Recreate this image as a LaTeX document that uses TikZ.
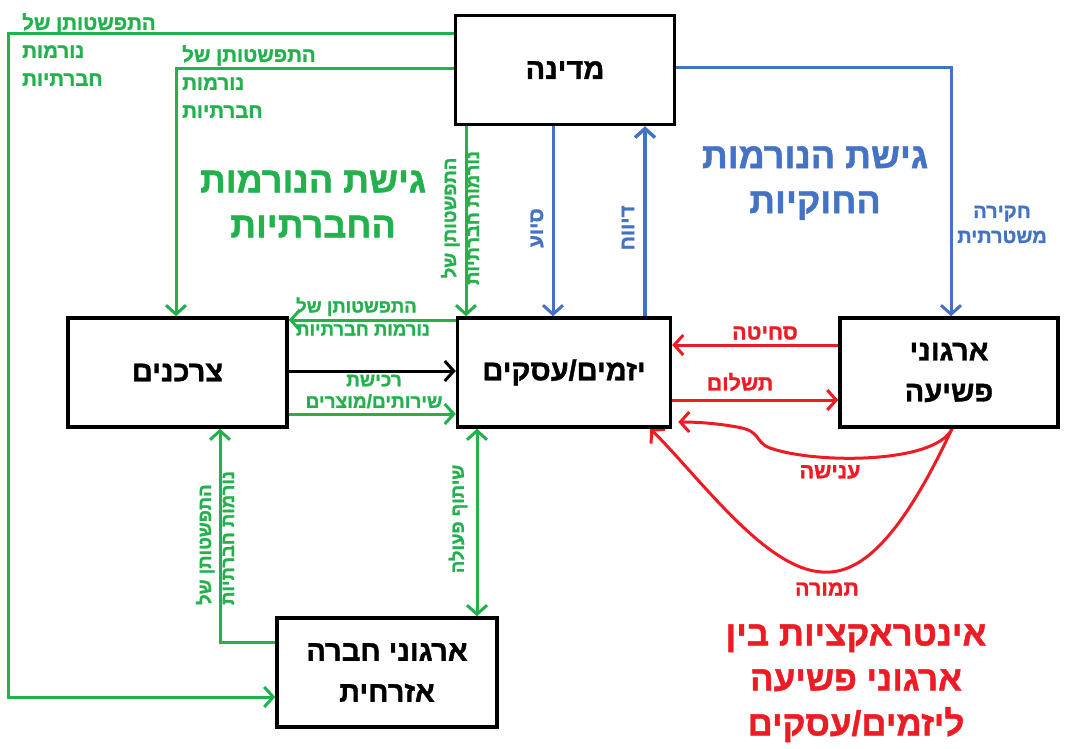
\documentclass[tikz,border=0pt]{standalone}
\usepackage{fontspec}
\setmainfont{Liberation Sans}[Script=Hebrew,BoldFeatures={FakeBold=1.2}]
\TeXXeTstate=1
\usetikzlibrary{arrows.meta}
\definecolor{cg}{RGB}{34,177,76}
\definecolor{cb}{RGB}{68,114,196}
\definecolor{cr}{RGB}{237,28,36}
\newcommand\hb[1]{\beginR#1\endR}
\newcommand\fsz[2]{\fontsize{#1}{#2}\selectfont}
\pgfdeclarelayer{fg}
\pgfsetlayers{main,fg}
\begin{document}
\begin{tikzpicture}[x=1pt,y=-1pt,
  box/.style={draw=black,line width=3.5pt,inner sep=0pt,align=center,font=\bfseries\fsz{29}{41}},
  tipb/.style={-{Straight Barb[length=9pt,width=20pt]}},
  tipbb/.style={{Straight Barb[length=9pt,width=20pt]}-{Straight Barb[length=9pt,width=20pt]}},
  link/.style={line width=3pt,tipb},
  gl/.style={link,draw=cg},
  bl/.style={link,draw=cb},
  rl/.style={link,draw=cr},
  lab/.style={inner sep=0pt,font=\bfseries\fsz{20.5}{28}},
  slab/.style={inner sep=0pt,font=\bfseries\fsz{18.5}{23}},
  rlab/.style={lab,text=cr,font=\bfseries\fsz{21.5}{28}},
  title/.style={inner sep=0pt,align=center,font=\bfseries\fsz{36}{45}}
]
\fill[white] (0,0) rectangle (1066,749);
\useasboundingbox (0,0) rectangle (1066,749);

\begin{pgfonlayer}{fg}
% boxes
\node[box,minimum width=219pt,minimum height=109pt] (mdina) at (565,70) {\hb{מדינה}};
\node[box,minimum width=219pt,minimum height=109pt] (tzar) at (177.5,372.5) {\hb{צרכנים}};
\node[box,minimum width=213pt,minimum height=109pt] (yaz) at (564,372.5) {\hb{יזמים/עסקים}};
\node[box,minimum width=218pt,minimum height=109pt] (pesh) at (949,372.5) {\hb{ארגוני}\\\hb{פשיעה}};
\node[box,minimum width=220pt,minimum height=109pt] (ezr) at (387,672.5) {\hb{ארגוני חברה}\\\hb{אזרחית}};

% green labels
\node[lab,text=cg,align=left,anchor=west] (lg1) at (22,49.5) {\hb{התפשטותן של}\\\hb{נורמות}\\\hb{חברתיות}};
\node[lab,text=cg,align=left,anchor=west] (lg2) at (182,81.5) {\hb{התפשטותן של}\\\hb{נורמות}\\\hb{חברתיות}};
\node[slab,text=cg,align=center,rotate=90] (lg3) at (460,218) {\hb{התפשטותן של}\\\hb{נורמות חברתיות}};
\node[slab,text=cg,align=left,anchor=west] (lg4) at (296,316.5) {\hb{התפשטותן של}\\\hb{נורמות חברתיות}};
\node[slab,text=cg,align=center,font=\bfseries\fsz{19}{21.5}] (lg5) at (374,391.5) {\hb{רכישת}\\\hb{שירותים/מוצרים}};
\node[slab,text=cg,rotate=90] (lg6) at (458,519) {\hb{שיתוף פעולה}};
\node[slab,text=cg,align=left,rotate=90] (lg7) at (215,538) {\hb{התפשטותן של}\\\hb{נורמות חברתיות}};

% blue labels
\node[lab,text=cb,rotate=90] (lb1) at (537,228) {\hb{סיוע}};
\node[lab,text=cb,rotate=90] (lb2) at (628,228) {\hb{דיווח}};
\node[slab,text=cb,align=center,font=\bfseries\fsz{20}{25}] (lb3) at (1002,224.5) {\hb{חקירה}\\\hb{משטרתית}};

% red labels
\node[rlab] (lr1) at (765,333) {\hb{סחיטה}};
\node[rlab] (lr2) at (740,382) {\hb{תשלום}};
\node[rlab] (lr3) at (830,472) {\hb{ענישה}};
\node[rlab] (lr4) at (827,589) {\hb{תמורה}};

% titles
\node[title,text=cg] (tg) at (313,204) {\hb{גישת הנורמות}\\\hb{החברתיות}};
\node[title,text=cb] (tb) at (815,183) {\hb{גישת הנורמות}\\\hb{החוקיות}};
\node[title,text=cr,font=\bfseries\fsz{35}{45}] (tr) at (856,683) {\hb{אינטראקציות בין}\\\hb{ארגוני פשיעה}\\\hb{ליזמים/עסקים}};
\end{pgfonlayer}

\coordinate (gc1) at (8,400);

% red connectors
\draw[rl] ([yshift=27.5pt]pesh.west) -- ([yshift=27.5pt]yaz.east);
\draw[rl] ([yshift=-27.5pt]yaz.east) -- ([yshift=-27.5pt]pesh.west);
\draw[rl] ([xshift=3pt]pesh.south) .. controls (935,464) and (815,464) .. (770,448)
   .. controls (754,442) and (762,431) .. (737,427)
   .. controls (715,423) and (695,422) .. ([xshift=6pt,yshift=-49.5pt]yaz.east);
\draw[rl] ([xshift=3pt]pesh.south) .. controls (900,540) and (860,575) .. (822,572)
   .. controls (765,569) and (700,478) .. ([xshift=-22pt]yaz.south east);

% green connectors
\draw[gl] ([yshift=36pt]mdina.west) -| (gc1) |- ([yshift=-24.5pt]ezr.west);
\draw[gl] ([yshift=1pt]mdina.west) -| ([xshift=-1.5pt]tzar.north);
\draw[gl] ([xshift=-99pt]mdina.south) -- ([xshift=-98pt]yaz.north);
\draw[gl] ([yshift=52.5pt]yaz.west) -- ([yshift=52.5pt]tzar.east);
\draw[link,draw=black] ([yshift=1.5pt]tzar.east) -- ([yshift=1.5pt]yaz.west);
\draw[gl] ([yshift=-41.5pt]tzar.east) -- ([yshift=-41.5pt]yaz.west);
\draw[gl,tipbb] ([xshift=-87pt]yaz.south) -- ([xshift=90pt]ezr.north);
\draw[gl] ([yshift=30.5pt]ezr.west) -| ([xshift=42.5pt]tzar.south);

% blue connectors
\draw[bl] ([xshift=-12pt]mdina.south) -- ([xshift=-11pt]yaz.north);
\draw[bl,line width=3.5pt] ([xshift=81pt]yaz.north) -- ([xshift=80pt]mdina.south);
\draw[bl] ([yshift=2pt]mdina.east) -| ([xshift=2pt]pesh.north);
\end{tikzpicture}
\end{document}
